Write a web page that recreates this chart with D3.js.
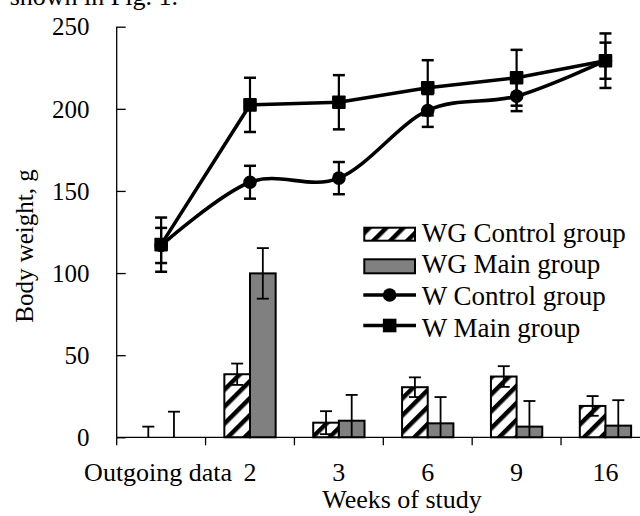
<!DOCTYPE html>
<html>
<head>
<meta charset="utf-8">
<script src="https://cdn.jsdelivr.net/npm/d3@7"></script>
<style>
  html, body { margin: 0; padding: 0; background: #fff; }
  svg { display: block; }
  text { font-family: "Liberation Serif", "Times New Roman", serif; fill: #000; }
</style>
</head>
<body>
<svg id="chart" width="640" height="516"></svg>
<script>
// ---- data ----
const categories = ["Outgoing data", "2", "3", "6", "9", "16"];
const wgControl    = [0, 38.4, 8.9, 30.5, 37.0, 19.1];
const wgControlErr = [6.5, 6.5, 7.0, 6.0, 6.3, 6.0];
const wgMain       = [0, 99.8, 10.1, 8.5, 6.5, 7.1];
const wgMainErr    = [15.6, 15.4, 15.7, 16.0, 15.6, 15.5];
const wControl     = [116.8, 155.3, 157.8, 199.0, 207.7, 229.3];
const wControlErr  = [10.7, 10.0, 9.8, 10.0, 9.1, 11.0];
const wMain        = [117.3, 202.4, 204.0, 212.8, 218.9, 229.3];
const wMainErr     = [16.5, 16.5, 16.5, 16.8, 17.0, 16.6];
const yTicks = [0, 50, 100, 150, 200, 250];
const legendLabels = ["WG Control group", "WG Main group", "W Control group", "W Main group"];
const xTitle = "Weeks of study";
const yTitle = "Body weight, g";

// ---- layout ----
const svg = d3.select("#chart");
const plotL = 116.7, plotB = 437.3, plotT = 26.7, plotR = 649.9;

const x = d3.scaleBand().domain(categories).range([plotL, plotR]);
const y = d3.scaleLinear().domain([0, 250]).range([plotB, plotT]);
const bw = x.bandwidth();
const barW = bw * 0.2887;
const xs = d3.scaleBand().domain(["ctrl", "main"]).range([bw / 2 - barW, bw / 2 + barW]);

// hatch pattern
const defs = svg.append("defs");
const pat = defs.append("pattern")
  .attr("id", "hatch").attr("patternUnits", "userSpaceOnUse")
  .attr("width", 12).attr("height", 12)
  .attr("patternTransform", "rotate(45)");
pat.append("rect").attr("width", 12).attr("height", 12).attr("fill", "#fff");
pat.append("rect").attr("x", 0).attr("y", 0).attr("width", 4.5).attr("height", 12).attr("fill", "#000");

// cropped document text at the top
svg.append("text").attr("x", 178).attr("y", 5).attr("text-anchor", "end")
  .attr("font-size", 26).text("shown in Fig. 1.");

// ---- bars ----
const barData = categories.map((c, i) => [
  { c, key: "ctrl", v: wgControl[i], e: wgControlErr[i] },
  { c, key: "main", v: wgMain[i], e: wgMainErr[i] }
]).flat();

svg.append("g").selectAll("rect").data(barData.filter(d => d.v > 0)).join("rect")
  .attr("x", d => x(d.c) + xs(d.key))
  .attr("y", d => y(d.v))
  .attr("width", xs.bandwidth())
  .attr("height", d => y(0) - y(d.v))
  .attr("fill", d => d.key === "ctrl" ? "url(#hatch)" : "#808080")
  .attr("stroke", "#000").attr("stroke-width", 2);

// bar error bars
const be = svg.append("g").attr("stroke", "#000").attr("stroke-width", 1.8);
barData.forEach(d => {
  const bx = x(d.c) + xs(d.key) + xs.bandwidth() / 2;
  const hi = d.v + d.e, lo = Math.max(0, d.v - d.e);
  be.append("line").attr("x1", bx).attr("x2", bx).attr("y1", y(hi)).attr("y2", y(lo));
  be.append("line").attr("x1", bx - 6).attr("x2", bx + 6).attr("y1", y(hi)).attr("y2", y(hi));
  if (d.v - d.e > 0)
    be.append("line").attr("x1", bx - 6).attr("x2", bx + 6).attr("y1", y(lo)).attr("y2", y(lo));
});

// ---- axes ----
const yAxis = d3.axisRight(y).tickValues(yTicks).tickSize(9).tickFormat("");
const yg = svg.append("g").attr("transform", `translate(${plotL},0)`).call(yAxis);
yg.select(".domain").attr("stroke", "#000").attr("stroke-width", 1.3).attr("d", `M0,${plotT}V${plotB}`);
yg.selectAll(".tick line").attr("stroke", "#000").attr("stroke-width", 1.3);

svg.append("g").selectAll("text").data(yTicks).join("text")
  .attr("x", 89.5).attr("y", d => y(d)).attr("dy", "0.35em")
  .attr("text-anchor", "end").attr("font-size", 25).text(d => d);

const bounds = categories.map(c => x(c));
const xg = svg.append("g");
xg.append("line").attr("x1", plotL).attr("x2", 640).attr("y1", plotB).attr("y2", plotB)
  .attr("stroke", "#000").attr("stroke-width", 1.3);
xg.selectAll("line.t").data(bounds).join("line").attr("class", "t")
  .attr("x1", d => d).attr("x2", d => d).attr("y1", plotB).attr("y2", plotB + 8)
  .attr("stroke", "#000").attr("stroke-width", 1.3);
xg.selectAll("text").data(categories).join("text")
  .attr("x", d => x(d) + bw / 2 - (d === "Outgoing data" ? 3 : 0)).attr("y", 480.7)
  .attr("text-anchor", "middle").attr("font-size", 26).text(d => d);

svg.append("text").attr("x", 402).attr("y", 508.3).attr("text-anchor", "middle")
  .attr("font-size", 26).text(xTitle);
svg.append("text").attr("transform", "translate(33.3,246) rotate(-90)")
  .attr("text-anchor", "middle").attr("font-size", 25).text(yTitle);

// ---- lines ----
const cx = c => x(c) + bw / 2;
const lineCtrl = d3.line().x((d, i) => cx(categories[i])).y(d => y(d)).curve(d3.curveCardinal.tension(0));
const lineMain = d3.line().x((d, i) => cx(categories[i])).y(d => y(d)).curve(d3.curveLinear);

svg.append("path").attr("d", lineMain(wMain)).attr("fill", "none").attr("stroke", "#000").attr("stroke-width", 3.6);
svg.append("path").attr("d", lineCtrl(wControl)).attr("fill", "none").attr("stroke", "#000").attr("stroke-width", 3.6);

function errBars(vals, errs) {
  const g = svg.append("g").attr("stroke", "#000").attr("stroke-width", 2.2);
  vals.forEach((v, i) => {
    const px = cx(categories[i]);
    g.append("line").attr("x1", px).attr("x2", px).attr("y1", y(v + errs[i])).attr("y2", y(v - errs[i]));
    [v + errs[i], v - errs[i]].forEach(t =>
      g.append("line").attr("x1", px - 6).attr("x2", px + 6).attr("y1", y(t)).attr("y2", y(t)).attr("stroke-width", 2.5));
  });
}
errBars(wMain, wMainErr);
errBars(wControl, wControlErr);

svg.append("g").selectAll("rect").data(wMain).join("rect")
  .attr("x", (d, i) => cx(categories[i]) - 6.8).attr("y", d => y(d) - 6.8)
  .attr("width", 13.6).attr("height", 13.6).attr("rx", 1).attr("fill", "#000");
svg.append("g").selectAll("circle").data(wControl).join("circle")
  .attr("cx", (d, i) => cx(categories[i])).attr("cy", d => y(d)).attr("r", 6.8).attr("fill", "#000");

// ---- legend ----
const lg = svg.append("g");
const lx0 = 363.3, lx1 = 416, tx = 421.7;
const baselines = [241.7, 273.4, 305.1, 336.8];
lg.append("rect").attr("x", lx0 + 1).attr("y", 227.7).attr("width", lx1 - lx0 - 2).attr("height", 13)
  .attr("fill", "url(#hatch)").attr("stroke", "#000").attr("stroke-width", 2);
lg.append("rect").attr("x", lx0 + 1).attr("y", 259.3).attr("width", lx1 - lx0 - 2).attr("height", 14)
  .attr("fill", "#808080").attr("stroke", "#000").attr("stroke-width", 2);
lg.append("line").attr("x1", lx0).attr("x2", lx1).attr("y1", 295).attr("y2", 295).attr("stroke", "#000").attr("stroke-width", 3.6);
lg.append("circle").attr("cx", (lx0 + lx1) / 2).attr("cy", 295).attr("r", 6.8).attr("fill", "#000");
lg.append("line").attr("x1", lx0).attr("x2", lx1).attr("y1", 325.5).attr("y2", 325.5).attr("stroke", "#000").attr("stroke-width", 3.6);
lg.append("rect").attr("x", (lx0 + lx1) / 2 - 6.8).attr("y", 325.5 - 6.8).attr("width", 13.6).attr("height", 13.6).attr("fill", "#000");
lg.selectAll("text").data(legendLabels).join("text")
  .attr("x", tx).attr("y", (d, i) => baselines[i]).attr("font-size", 27).text(d => d);
</script>
</body>
</html>
